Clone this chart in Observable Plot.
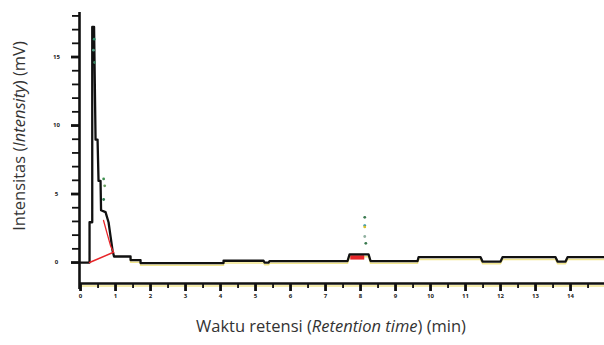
<!DOCTYPE html>
<html><head><meta charset="utf-8">
<script src="https://cdn.jsdelivr.net/npm/d3@7"></script>
<script src="https://cdn.jsdelivr.net/npm/@observablehq/plot@0.6"></script>
<style>body{margin:0;background:#fff} svg{display:block;background:#fff}</style>
</head><body><div id="chart"></div>
<script>
// chromatogram trace (retention time in min, intensity in mV)
const timeMin = [0, 0.257, 0.257, 0.334, 0.334, 0.386, 0.429, 0.486, 0.514, 0.571, 0.586, 0.714, 0.8, 0.857, 0.914, 0.957, 1.429, 1.429, 1.714, 1.714, 4.086, 4.086, 5.229, 5.257, 5.371, 5.4, 7.629, 7.686, 8.229, 8.286, 9.629, 9.657, 11.429, 11.486, 12.0, 12.057, 13.571, 13.629, 13.857, 13.914, 14.97];
const intensity = [0, 0, 2.94, 2.94, 17.2, 17.2, 8.97, 8.97, 5.96, 5.96, 3.82, 3.68, 2.94, 1.91, 0.88, 0.44, 0.44, 0.18, 0.18, -0.04, -0.04, 0.13, 0.13, 0, 0, 0.11, 0.11, 0.59, 0.59, 0.11, 0.11, 0.39, 0.39, 0.07, 0.07, 0.39, 0.39, 0.07, 0.07, 0.39, 0.39];
// integration baseline (red)
const baseT = [0.257, 0.943];
const baseV = [0, 0.75];
const tailT = [0.657, 0.75, 0.86, 0.943];
const tailV = [3.07, 2.2, 1.2, 0.75];
// second peak integrated area
const areaT = [7.72, 8.12];
const areaV = [0.18, 0.5];
// peak markers
const markerT = [0.39, 0.37, 0.4, 0.66, 0.69, 0.66, 8.12, 8.12, 8.12, 8.12, 8.15];
const markerV = [16.3, 15.5, 14.6, 6.1, 5.6, 4.6, 3.3, 2.7, 2.6, 1.9, 1.4];
const markerC = ["#2f8a6a", "#4a9a80", "#3b7f60", "#3f8f50", "#6aa060", "#2f7a50", "#3a7a50", "#1e8fb0", "#d8c030", "#90b0a0", "#3a7a50"];
// axes
const xTicks = [0, 1, 2, 3, 4, 5, 6, 7, 8, 9, 10, 11, 12, 13, 14];
const xTickLabels = ["0", "1", "2", "3", "4", "5", "6", "7", "8", "9", "10", "11", "12", "13", "14"];
const xMinorTicks = [0.5, 1.5, 2.5, 3.5, 4.5, 5.5, 6.5, 7.5, 8.5, 9.5, 10.5, 11.5, 12.5, 13.5, 14.5];
const yTicks = [0, 5, 10, 15];
const yTickLabels = ["0", "5", "10", "15"];
const yMinorTicks = [1, 2, 3, 4, 6, 7, 8, 9, 11, 12, 13, 14, 16, 17, 18];
const xTitle = ["Waktu retensi (", "Retention time", ") (min)"];
const yTitle = ["Intensitas (", "Intensity", ") (mV)"];

const xMin = -0.03, xMax = 14.97, yMin = -1.53, yMax = 18.25;
const pxX = 525 / (xMax - xMin), pxY = 271 / (yMax - yMin);
const trace = timeMin.map((t, i) => ({t, v: intensity[i]}));
const base = baseT.map((t, i) => ({t, v: baseV[i]}));
const tail = tailT.map((t, i) => ({t, v: tailV[i]}));
const markers = markerT.map((t, i) => ({t, v: markerV[i], c: markerC[i]}));

const plot = Plot.plot({
  width: 604, height: 345,
  marginLeft: 79, marginRight: 0, marginTop: 12, marginBottom: 62,
  style: {fontFamily: "Open Sans, sans-serif", background: "#fff"},
  x: {domain: [xMin, xMax], axis: null},
  y: {domain: [yMin, yMax], axis: null},
  marks: [
    Plot.ruleY([yMin], {stroke: "#f1e58c", strokeWidth: 1.5, dy: 2.5}),
    // x ticks
    Plot.ruleX(xMinorTicks.filter(d => d < xMax), {x: d => d, y1: yMin, y2: yMin - 5 / pxY, stroke: "#111", strokeWidth: 1.8}),
    Plot.ruleX(xTicks, {x: d => d, y1: yMin, y2: yMin - 8 / pxY, stroke: "#111", strokeWidth: 2.8}),
    // y ticks
    Plot.ruleY(yMinorTicks, {y: d => d, x1: xMin, x2: xMin - 7 / pxX, stroke: "#111", strokeWidth: 1.8}),
    Plot.ruleY(yTicks, {y: d => d, x1: xMin, x2: xMin - 8 / pxX, stroke: "#111", strokeWidth: 2.8}),
    // axis lines
    Plot.ruleY([yMin], {stroke: "#111", strokeWidth: 2.6}),
    Plot.ruleX([xMin], {y1: yMin - 6 / pxY, y2: yMax, stroke: "#111", strokeWidth: 2.6}),
    // tick labels
    Plot.text(xTicks, {x: d => d, y: yMin, dy: 13, text: (d, i) => xTickLabels[i], fontSize: 6, fontWeight: "bold", fill: "#222"}),
    Plot.text(yTicks, {x: xMin, y: d => d, dx: -23, text: (d, i) => yTickLabels[i], fontSize: 6, fontWeight: "bold", fill: "#222"}),
    // data
    Plot.line(trace.filter(d => d.t > 1), {x: "t", y: "v", stroke: "#f1e58c", strokeWidth: 1.5, dy: 2.2}),
    Plot.rectY([{x1: areaT[0], x2: areaT[1], y1: areaV[0], y2: areaV[1]}], {x1: "x1", x2: "x2", y1: "y1", y2: "y2", fill: "#e8262a"}),
    Plot.line(trace, {x: "t", y: "v", stroke: "#111", strokeWidth: 2.3}),
    Plot.line(base, {x: "t", y: "v", stroke: "#e8262a", strokeWidth: 1.5}),
    Plot.line(tail, {x: "t", y: "v", stroke: "#e8262a", strokeWidth: 1.3}),
    Plot.dot(markers, {x: "t", y: "v", r: 1.4, fill: "c", stroke: null})
  ]
});
document.getElementById("chart").appendChild(plot);

const svg = d3.select(plot);
const xt = svg.append("text").attr("x", 331).attr("y", 332).attr("text-anchor", "middle")
  .attr("font-family", "Open Sans, sans-serif").attr("font-size", 16.5).attr("fill", "#333");
xTitle.forEach((s, i) => xt.append("tspan").attr("font-style", i === 1 ? "italic" : "normal").text(s));
const yt = svg.append("text").attr("transform", "translate(25,136) rotate(-90)").attr("text-anchor", "middle")
  .attr("font-family", "Open Sans, sans-serif").attr("font-size", 16.5).attr("fill", "#333");
yTitle.forEach((s, i) => yt.append("tspan").attr("font-style", i === 1 ? "italic" : "normal").text(s));
</script>
</body></html>
